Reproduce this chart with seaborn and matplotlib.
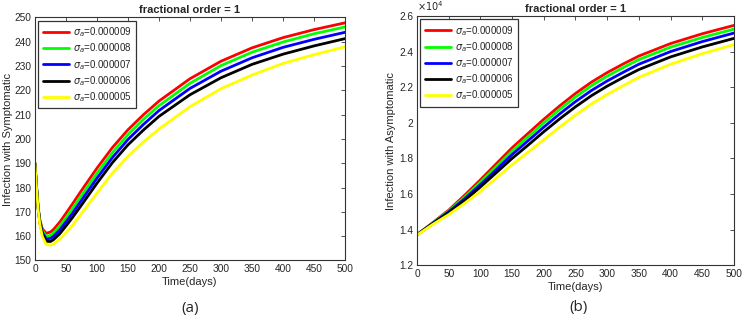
import numpy as np
import pandas as pd
import matplotlib
matplotlib.use("Agg")
import matplotlib.pyplot as plt
from matplotlib.ticker import FuncFormatter
import seaborn as sns

# ---- data ----
sigma_labels = ["0.000009", "0.000008", "0.000007", "0.000006", "0.000005"]
colors = ["#ff0000", "#00ff00", "#0000ff", "#000000", "#ffff00"]

# (a) infection with symptomatic
t_sym = [0, 2, 5, 8, 12, 18, 25, 30, 40, 50, 60, 75, 100, 125, 150, 175, 200, 250, 300, 350, 400, 450, 500]
sym_red = [190, 182, 172, 166.5, 163, 161.2, 161.7, 162.8, 165.8, 169.4, 173.1, 178.8, 188.0, 196.5, 203.8, 210.0, 215.6, 224.8, 232.0, 237.5, 241.7, 245.0, 247.8]
sym_green = [190, 182, 172, 166, 162.2, 160.0, 160.3, 161.3, 164.2, 167.6, 171.2, 176.8, 185.9, 194.4, 201.8, 208.1, 213.7, 222.9, 230.2, 235.7, 239.9, 243.3, 246.1]
sym_blue = [190, 182, 171.8, 165.7, 161.5, 158.9, 159.1, 160.0, 162.6, 165.9, 169.3, 174.8, 183.9, 192.4, 199.8, 206.0, 211.7, 220.8, 227.9, 233.4, 237.7, 241.0, 243.9]
sym_black = [190, 181.8, 171.6, 165.3, 160.8, 157.9, 157.8, 158.6, 161.0, 164.2, 167.5, 172.8, 181.8, 190.3, 197.6, 203.7, 209.3, 218.2, 225.2, 230.7, 234.9, 238.3, 241.3]
sym_yellow = [190, 181.5, 171.2, 164.5, 159.8, 156.6, 156.3, 156.8, 158.8, 161.4, 164.3, 169.3, 177.7, 186.0, 192.8, 198.8, 204.1, 213.3, 220.7, 226.3, 231.1, 234.7, 237.9]

# (b) infection with asymptomatic
t_asym = [0, 25, 50, 75, 100, 125, 150, 175, 200, 225, 250, 275, 300, 325, 350, 400, 450, 500]
asym_red = [13720, 14400, 15100, 15930, 16800, 17700, 18600, 19400, 20200, 20950, 21650, 22280, 22820, 23300, 23750, 24450, 25000, 25470]
asym_green = [13720, 14380, 15050, 15830, 16670, 17540, 18420, 19210, 20000, 20750, 21450, 22080, 22620, 23100, 23550, 24250, 24790, 25260]
asym_blue = [13720, 14360, 15000, 15730, 16530, 17370, 18220, 18990, 19760, 20500, 21190, 21810, 22350, 22830, 23290, 24000, 24560, 25040]
asym_black = [13720, 14340, 14950, 15630, 16400, 17200, 18000, 18740, 19500, 20220, 20900, 21520, 22060, 22540, 22990, 23700, 24260, 24740]
asym_yellow = [13700, 14300, 14850, 15480, 16150, 16900, 17650, 18340, 19050, 19760, 20430, 21050, 21590, 22080, 22550, 23290, 23880, 24390]

sym = [sym_red, sym_green, sym_blue, sym_black, sym_yellow]
asym = [asym_red, asym_green, asym_blue, asym_black, asym_yellow]

sns.set_style("white")
plt.rcParams["font.family"] = ["Liberation Sans", "DejaVu Sans"]
plt.rcParams["mathtext.fontset"] = "dejavusans"

fig = plt.figure(figsize=(7.44, 3.22), dpi=100)
ax1 = fig.add_axes([0.047, 0.191, 0.4167, 0.7547])
ax2 = fig.add_axes([0.5605, 0.176, 0.426, 0.7745])


def draw(ax, t, series, ylabel, lab_x):
    for vals, c, lab in zip(series, colors, sigma_labels):
        sns.lineplot(x=t, y=vals, ax=ax, color=c, lw=2.0, label=r"$\sigma_a$=" + lab)
    ax.set_xlim(0, 500)
    ax.set_xticks(range(0, 501, 50))
    ax.set_xlabel("Time(days)", fontsize=8, labelpad=2)
    ax.set_ylabel(ylabel, fontsize=8)
    ax.yaxis.set_label_coords(lab_x, 0.5)
    ax.set_title("fractional order = 1", fontsize=8, fontweight="bold", pad=3)
    ax.tick_params(direction="in", length=3, width=0.6, labelsize=7.3, top=True, right=True,
                   color="#333333", pad=2.5)
    for s in ax.spines.values():
        s.set_color("#333333")
        s.set_linewidth(0.8)
    leg = ax.legend(loc="upper left", fontsize=7, handlelength=2.7, handletextpad=0.4,
                    labelspacing=0.25, borderpad=0.45, fancybox=False, framealpha=1,
                    borderaxespad=0.35)
    leg.get_frame().set_edgecolor("#333333")
    leg.get_frame().set_linewidth(0.9)


draw(ax1, t_sym, sym, "Infection with Symptomatic", -0.071)
ax1.set_ylim(150, 250)
ax1.set_yticks(range(150, 251, 10))

draw(ax2, t_asym, asym, "Infection with Asymptomatic", -0.066)
ax2.set_ylim(12000, 26000)
ax2.set_yticks(np.arange(12000, 26001, 2000))
ax2.yaxis.set_major_formatter(FuncFormatter(lambda v, p: f"{v/1e4:g}"))
ax2.text(0.0, 1.012, r"$\times10^4$", transform=ax2.transAxes, fontsize=7, ha="left", va="bottom")

fig.text(0.2555, 0.03, "(a)", fontsize=11, ha="center", family="Open Sans")
fig.text(0.777, 0.035, "(b)", fontsize=11, ha="center", family="Open Sans")

fig.savefig("out.png", dpi=100, facecolor="white")
